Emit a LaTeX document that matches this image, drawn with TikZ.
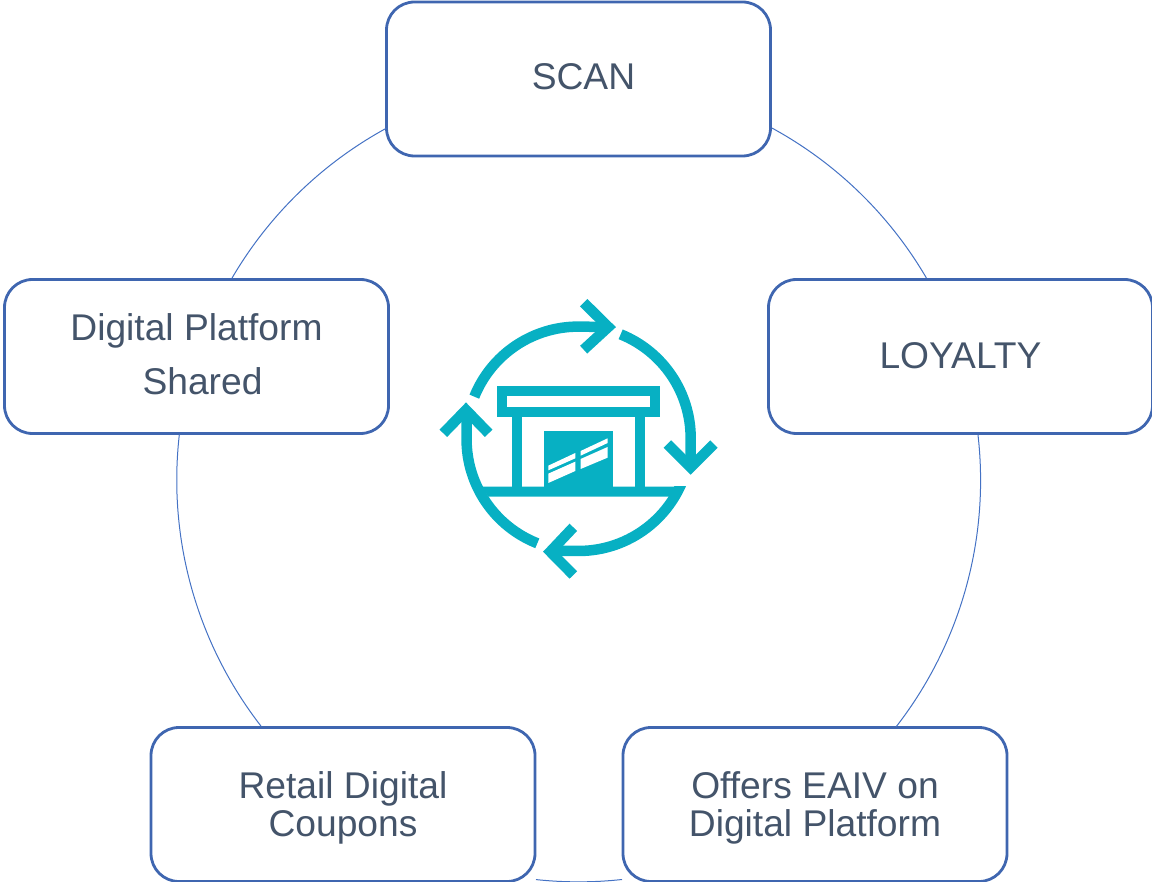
\documentclass[tikz,border=0pt]{standalone}
\usepackage{fontspec}
\setmainfont{Liberation Sans}
\definecolor{boxline}{HTML}{3F66B0}
\definecolor{arcline}{HTML}{4472C4}
\definecolor{txt}{HTML}{44546A}
\definecolor{teal}{HTML}{07B0C3}
\newcommand{\padbelow}[1]{\rule[-#1]{0pt}{0pt}}
\newcommand{\padabove}[1]{\rule{0pt}{#1}}
\tikzset{
  box/.style={draw=boxline,line width=2.8pt,rounded corners=28pt,fill=white,minimum width=384pt,minimum height=154pt,inner sep=0pt,align=center,text=txt,font=\fontsize{37.2}{38}\selectfont},
  ring/.style={draw=arcline,line width=1pt},
  icon/.style={draw=teal,line width=10pt,miter limit=10},
  loop/.style={icon,line width=10.5pt},
}
\begin{document}
\begin{tikzpicture}[x=1pt,y=-1pt]
\useasboundingbox (0,0) rectangle (1152,882);
\node[box] (scan) at (578.5,79) {\hspace*{10pt}SCAN\padbelow{4pt}};
\node[box] (loyalty) at (960.5,356.5) {LOYALTY\padbelow{2pt}};
\node[box] (platform) at (196.5,356.5) {Digital Platform\\[16pt]\hspace*{12pt}Shared\padbelow{4pt}};
\node[box] (coupons) at (343,804.5) {\padabove{33pt}Retail Digital\\Coupons};
\node[box] (offers) at (815,804.5) {\padabove{33pt}Offers EAIV on\\Digital Platform};
% connectors
\coordinate (a1) at (scan.east |- 0,128);
\coordinate (a3) at (978,435);
\coordinate (a5) at (622,879.5);
\coordinate (a7) at (coupons.north -| 261,0);
\coordinate (a9) at (platform.north -| 232,0);
\draw[ring] (a1) arc[start angle=61.4,end angle=30.3,radius=401.5pt];
\draw[ring] (a3) arc[start angle=6.5,end angle=-37.8,radius=401.5pt];
\draw[ring] (a5) arc[start angle=-83.8,end angle=-96.1,radius=401.5pt];
\draw[ring] (a7) arc[start angle=-142.2,end angle=-186.5,radius=401.5pt];
\draw[ring] (a9) arc[start angle=149.7,end angle=118.6,radius=401.5pt];
% icon
\begin{scope}[shift={(430,290)},x=0.3333pt,y=-0.3333pt]
\def\R{112pt}
\draw[loop] (133,320) arc[start angle=158,end angle=90,radius=\R] -- (535,111);
\draw[loop] (461,38) -- (535,111) -- (461,179);
\draw[loop] (572,133) arc[start angle=68,end angle=0,radius=\R] -- (782,530);
\draw[loop] (712,462) -- (782,532) -- (852,462);
\begin{scope}
\clip (0,590) rectangle (900,900);
\draw[loop] (358,783) -- (446,783) arc[start angle=270,end angle=345,radius=\R];
\end{scope}
\draw[loop] (430,712) -- (361,785) -- (430,855);
\draw[loop] (322,760) arc[start angle=248.4,end angle=180,radius=\R] -- (110,360);
\draw[loop] (40,430) -- (108,360) -- (176,430);
\fill[teal] (155,590) -- (767,590) -- (718,620) -- (175,620) -- cycle;
\draw[icon] (217,302) rectangle (676,367);
\draw[icon] (262,382) -- (262,590);
\draw[icon] (630,382) -- (630,590);
\fill[teal] (341,422) rectangle (548,590);
\fill[white] (355,527) -- (436,489) -- (436,505) -- (355,541) -- cycle;
\fill[white] (355,551) -- (436,515) -- (436,543) -- (355,579) -- cycle;
\fill[white] (452,483) -- (533,445) -- (533,459) -- (452,497) -- cycle;
\fill[white] (452,507) -- (533,471) -- (533,503) -- (452,537) -- cycle;
\end{scope}
\end{tikzpicture}
\end{document}
